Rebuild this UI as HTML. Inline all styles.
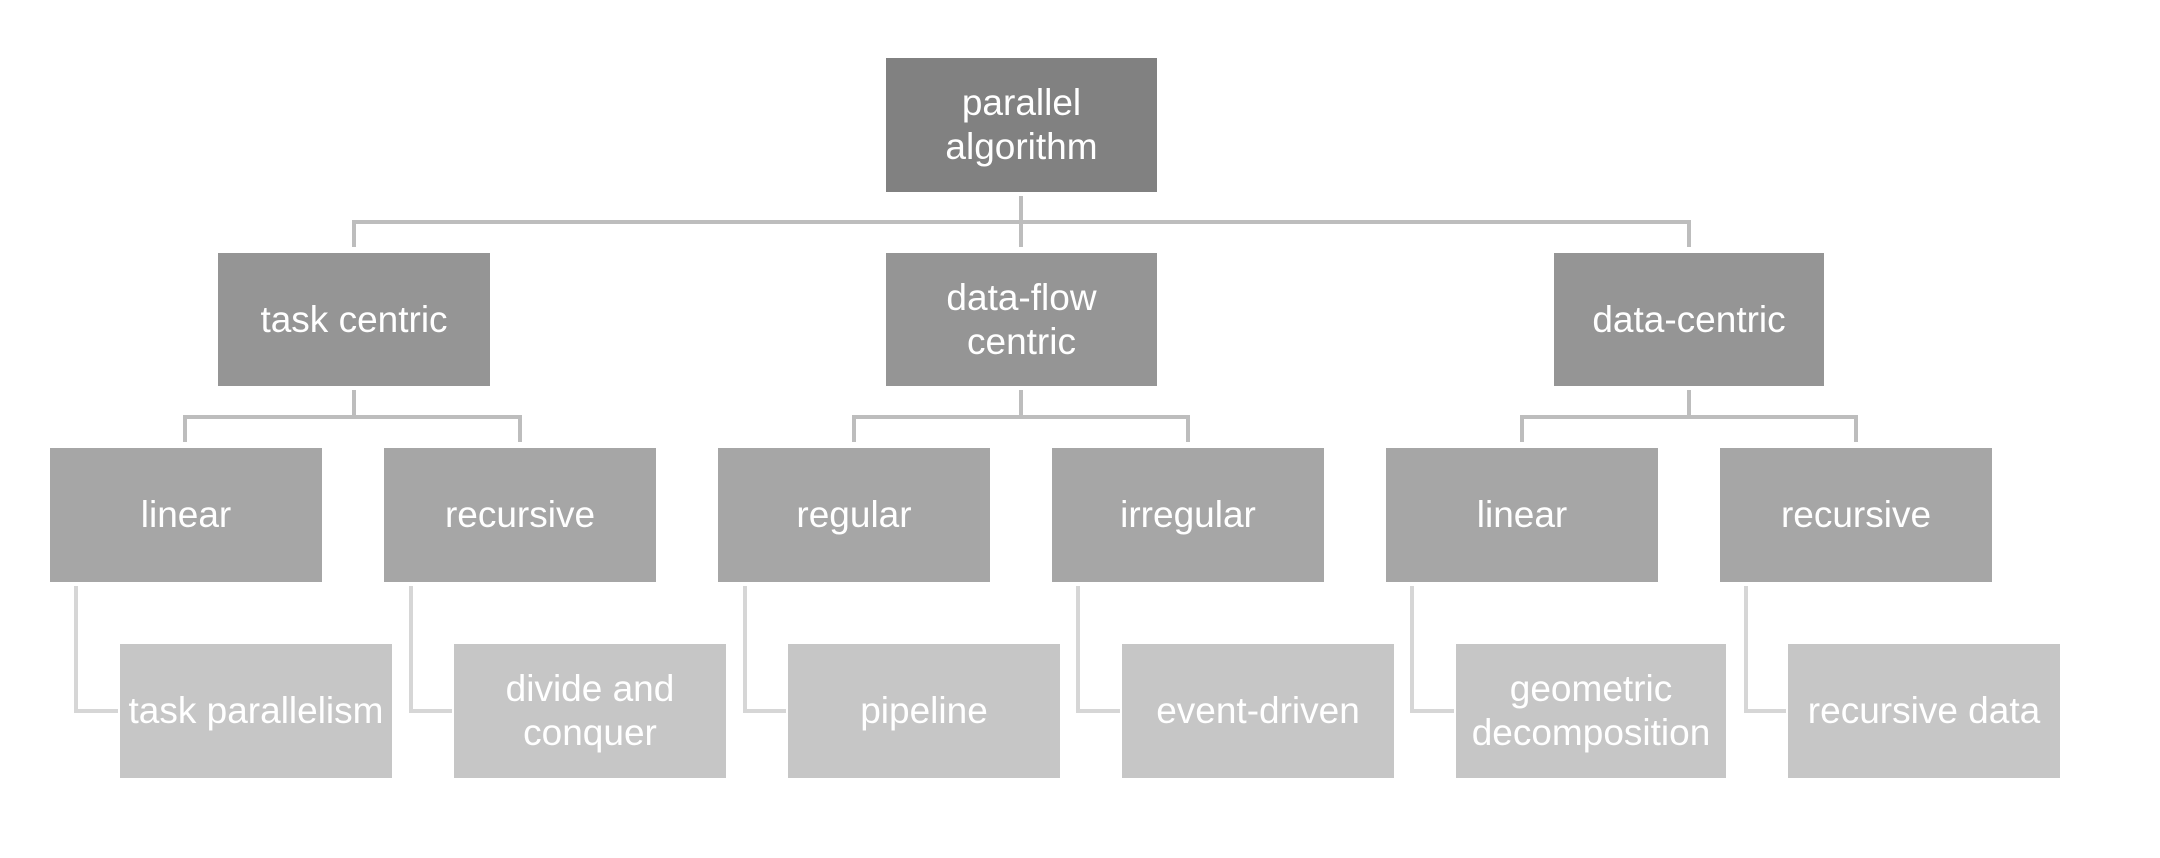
<!DOCTYPE html>
<html><head><meta charset="utf-8"><style>
html,body{margin:0;padding:0;background:#fff;}
body{width:2160px;height:858px;position:relative;overflow:hidden;font-family:"Liberation Sans",sans-serif;}
.b{position:absolute;display:flex;align-items:center;justify-content:center;text-align:center;color:#fff;font-size:37px;line-height:44px;}
.l0{background:#818181}.l1{background:#959595}.l2{background:#a6a6a6}.l3{background:#c6c6c6}
svg{position:absolute;left:0;top:0}
</style></head><body>
<svg width="2160" height="858">
<g stroke="#bdbdbd" stroke-width="4" fill="none">
<path d="M1021 196 V222 M354 247 V222 H1689 V247 M1021 222 V247"/>
<path d="M354 390 V417 M185 442 V417 H520 V442"/>
<path d="M1021 390 V417 M854 442 V417 H1188 V442"/>
<path d="M1689 390 V417 M1522 442 V417 H1856 V442"/>
</g>
<g stroke="#d6d6d6" stroke-width="4" fill="none">
<path d="M76 586 V711 H118"/>
<path d="M411 586 V711 H452"/>
<path d="M745 586 V711 H786"/>
<path d="M1078 586 V711 H1120"/>
<path d="M1412 586 V711 H1454"/>
<path d="M1746 586 V711 H1786"/>
</g>
</svg>
<div class="b l0" style="left:886px;top:58px;width:271px;height:134px">parallel<br>algorithm</div>
<div class="b l1" style="left:218px;top:253px;width:272px;height:133px">task centric</div>
<div class="b l1" style="left:886px;top:253px;width:271px;height:133px">data-flow<br>centric</div>
<div class="b l1" style="left:1554px;top:253px;width:270px;height:133px">data-centric</div>
<div class="b l2" style="left:50px;top:448px;width:272px;height:134px">linear</div>
<div class="b l2" style="left:384px;top:448px;width:272px;height:134px">recursive</div>
<div class="b l2" style="left:718px;top:448px;width:272px;height:134px">regular</div>
<div class="b l2" style="left:1052px;top:448px;width:272px;height:134px">irregular</div>
<div class="b l2" style="left:1386px;top:448px;width:272px;height:134px">linear</div>
<div class="b l2" style="left:1720px;top:448px;width:272px;height:134px">recursive</div>
<div class="b l3" style="left:120px;top:644px;width:272px;height:134px">task parallelism</div>
<div class="b l3" style="left:454px;top:644px;width:272px;height:134px">divide and<br>conquer</div>
<div class="b l3" style="left:788px;top:644px;width:272px;height:134px">pipeline</div>
<div class="b l3" style="left:1122px;top:644px;width:272px;height:134px">event-driven</div>
<div class="b l3" style="left:1456px;top:644px;width:270px;height:134px">geometric<br>decomposition</div>
<div class="b l3" style="left:1788px;top:644px;width:272px;height:134px">recursive data</div>
</body></html>
